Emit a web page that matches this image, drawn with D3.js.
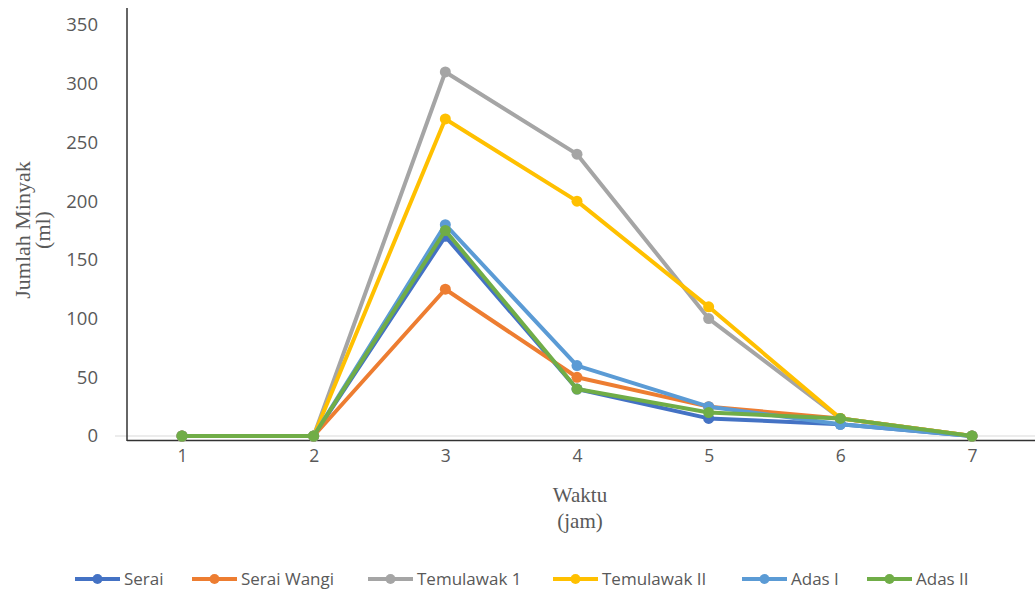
<!DOCTYPE html>
<html>
<head>
<meta charset="utf-8">
<script src="https://cdn.jsdelivr.net/npm/d3@7"></script>
<style>
  body { margin: 0; background: #fff; }
  svg { display: block; }
</style>
</head>
<body>
<div id="chart"></div>
<script>
// Hours on the x axis
const waktu = [1, 2, 3, 4, 5, 6, 7];

// Oil volume (ml) per series
const serai = [0, 0, 170, 40, 15, 10, 0];
const seraiWangi = [0, 0, 125, 50, 25, 15, 0];
const temulawak1 = [0, 0, 310, 240, 100, 15, 0];
const temulawak2 = [0, 0, 270, 200, 110, 15, 0];
const adas1 = [0, 0, 180, 60, 25, 10, 0];
const adas2 = [0, 0, 175, 40, 20, 15, 0];

const seriesNames = ["Serai", "Serai Wangi", "Temulawak 1", "Temulawak II", "Adas I", "Adas II"];
const seriesValues = [serai, seraiWangi, temulawak1, temulawak2, adas1, adas2];
const seriesColors = ["#4472C4", "#ED7D31", "#A5A5A5", "#FFC000", "#5B9BD5", "#70AD47"];

const yTicks = [0, 50, 100, 150, 200, 250, 300, 350];

const w = 1035;
const h = 591;

const svg = d3.select("#chart").append("svg")
  .attr("width", w)
  .attr("height", h);

// Scales
const x = d3.scalePoint().domain(waktu).range([182, 972]);
const y = d3.scaleLinear().domain([0, 350]).range([436, 25]);

// Light gridline at zero
svg.append("line")
  .attr("x1", 115).attr("x2", w)
  .attr("y1", y(0)).attr("y2", y(0))
  .attr("stroke", "#d9d9d9")
  .attr("stroke-width", 1);

// Y axis labels
const yAxis = d3.axisLeft(y).tickValues(yTicks).tickSize(0).tickPadding(0);
const gy = svg.append("g")
  .attr("transform", "translate(98,0)")
  .call(yAxis);
gy.select(".domain").remove();
gy.selectAll("text")
  .attr("font-family", "'Open Sans', sans-serif")
  .attr("font-size", 18.5)
  .attr("fill", "#595959");

// X axis labels
const xAxis = d3.axisBottom(x).tickSize(0).tickPadding(0);
const gx = svg.append("g")
  .attr("transform", "translate(0,450)")
  .call(xAxis);
gx.select(".domain").remove();
gx.selectAll("text")
  .attr("font-family", "'Open Sans', sans-serif")
  .attr("font-size", 17.5)
  .attr("fill", "#595959");

// Frame lines (left and bottom)
svg.append("line")
  .attr("x1", 127).attr("x2", 127)
  .attr("y1", 8).attr("y2", 441)
  .attr("stroke", "#333")
  .attr("stroke-width", 1.5);
svg.append("line")
  .attr("x1", 127).attr("x2", w)
  .attr("y1", 440.5).attr("y2", 440.5)
  .attr("stroke", "#333")
  .attr("stroke-width", 1.5);

// Series lines and markers
const line = d3.line()
  .x((d, i) => x(waktu[i]))
  .y((d) => y(d));

seriesValues.forEach((vals, s) => {
  const g = svg.append("g");
  g.append("path")
    .datum(vals)
    .attr("d", line)
    .attr("fill", "none")
    .attr("stroke", seriesColors[s])
    .attr("stroke-width", 4)
    .attr("stroke-linejoin", "round");
  g.selectAll("circle")
    .data(vals)
    .enter()
    .append("circle")
    .attr("cx", (d, i) => x(waktu[i]))
    .attr("cy", (d) => y(d))
    .attr("r", 5.5)
    .attr("fill", seriesColors[s]);
});

// Axis titles
const yTitle = svg.append("text")
  .attr("transform", "translate(30,230) rotate(-90)")
  .attr("text-anchor", "middle")
  .attr("font-family", "'Liberation Serif', serif")
  .attr("font-size", 22)
  .attr("fill", "#595959");
yTitle.append("tspan").attr("x", 0).attr("dy", 0).text("Jumlah Minyak");
yTitle.append("tspan").attr("x", 0).attr("dy", 20).text("(ml)");

svg.append("text")
  .attr("x", 580).attr("y", 502)
  .attr("text-anchor", "middle")
  .attr("font-family", "'Liberation Serif', serif")
  .attr("font-size", 21)
  .attr("fill", "#595959")
  .text("Waktu");
svg.append("text")
  .attr("x", 580).attr("y", 528)
  .attr("text-anchor", "middle")
  .attr("font-family", "'Liberation Serif', serif")
  .attr("font-size", 21)
  .attr("fill", "#595959")
  .text("(jam)");

// Legend
const legendX = [75, 192, 368, 553, 742, 867];
const legend = svg.append("g").attr("transform", "translate(0,579)");
seriesNames.forEach((name, i) => {
  const item = legend.append("g").attr("transform", `translate(${legendX[i]},0)`);
  item.append("line")
    .attr("x1", 0).attr("x2", 45)
    .attr("y1", 0).attr("y2", 0)
    .attr("stroke", seriesColors[i])
    .attr("stroke-width", 4);
  item.append("circle")
    .attr("cx", 22.5).attr("cy", 0).attr("r", 5)
    .attr("fill", seriesColors[i]);
  item.append("text")
    .attr("x", 49).attr("y", 6)
    .attr("font-family", "'Open Sans', sans-serif")
    .attr("font-size", 17)
    .attr("fill", "#595959")
    .text(name);
});
</script>
</body>
</html>
